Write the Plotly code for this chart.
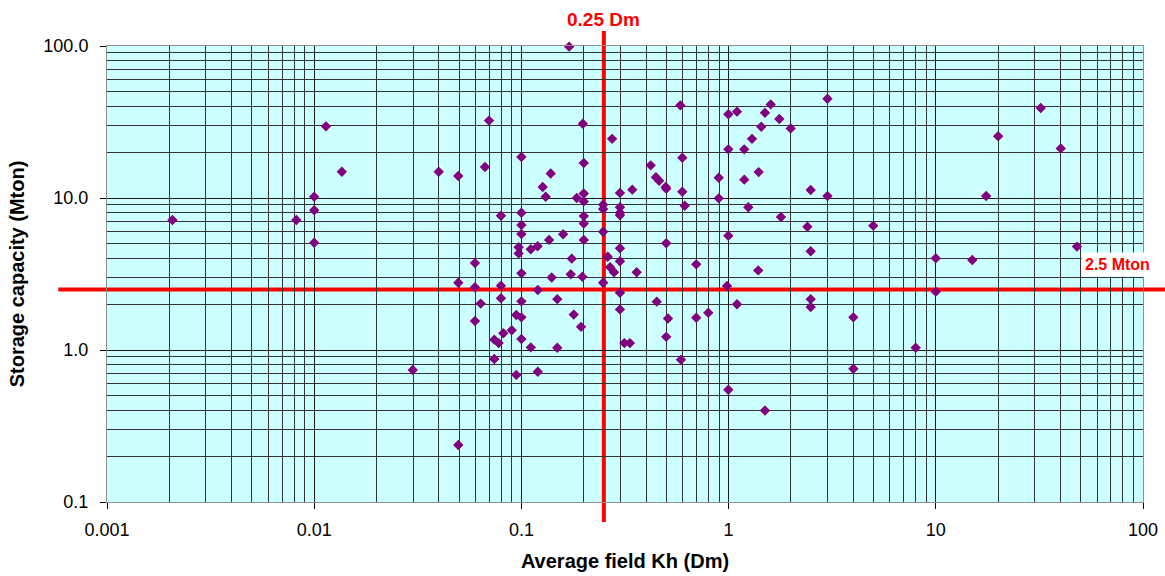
import numpy as np
import plotly.graph_objects as go

# ---- data ----
kh_dm = [0.00207, 0.0082, 0.01, 0.01, 0.01, 0.0114, 0.0136, 0.0299, 0.0399, 0.0496,
         0.0496, 0.0496, 0.0597, 0.0597, 0.0597, 0.0636, 0.0667, 0.0698, 0.074, 0.0777,
         0.074, 0.0797, 0.0797, 0.0797, 0.0818, 0.0898, 0.0945, 0.0945, 0.097, 0.097,
         0.1, 0.1, 0.1, 0.1, 0.1, 0.1, 0.1, 0.1, 0.111, 0.111,
         0.1198, 0.120, 0.120, 0.1267, 0.131, 0.136, 0.1385, 0.140, 0.149, 0.149,
         0.159, 0.170, 0.173, 0.175, 0.179, 0.185, 0.194, 0.197, 0.198, 0.2,
         0.2, 0.2, 0.2, 0.2, 0.2, 0.248, 0.248, 0.248, 0.248, 0.261,
         0.268, 0.274, 0.280, 0.299, 0.299, 0.299, 0.299, 0.299, 0.299, 0.299,
         0.299, 0.314, 0.334, 0.343, 0.360, 0.421, 0.446, 0.450, 0.462, 0.497,
         0.5, 0.5, 0.5, 0.510, 0.585, 0.589, 0.598, 0.598, 0.614, 0.698,
         0.698, 0.798, 0.896, 0.896, 0.982, 0.997, 0.997, 0.997, 0.997, 1.098,
         1.098, 1.19, 1.19, 1.245, 1.297, 1.39, 1.397, 1.438, 1.498, 1.498,
         1.597, 1.757, 1.79, 1.994, 2.40, 2.49, 2.49, 2.49, 2.49, 3.0,
         3.0, 4.0, 4.0, 4.99, 8.0, 10.0, 10.0, 15.0, 17.5, 20.0,
         32.1, 40.1, 48.0]
capacity_mton = [7.16, 7.16, 10.2, 8.3, 5.08, 29.6, 14.9, 0.738, 14.9, 13.97,
                 2.77, 0.237, 3.73, 2.59, 1.55, 2.02, 16.0, 32.3, 1.17, 1.11,
                 0.873, 7.65, 2.65, 2.19, 1.29, 1.35, 1.70, 0.686, 4.74, 4.32,
                 18.6, 8.0, 6.64, 5.8, 3.20, 2.09, 1.64, 1.18, 4.6, 1.04,
                 4.81, 2.48, 0.72, 11.8, 10.2, 5.3, 14.5, 3.0, 2.16, 1.035,
                 5.77, 99.0, 3.15, 3.99, 1.71, 10.0, 1.42, 3.03, 30.8, 17.0,
                 10.7, 9.5, 7.6, 6.8, 5.3, 9.04, 8.47, 6.0, 2.77, 4.11,
                 3.50, 24.5, 3.25, 10.8, 8.7, 8.0, 7.7, 4.67, 3.84, 2.38,
                 1.85, 1.11, 1.11, 11.35, 3.25, 16.4, 13.7, 2.08, 13.0, 11.8,
                 11.5, 5.04, 1.22, 1.61, 40.7, 0.864, 18.4, 11.0, 8.9, 3.66,
                 1.63, 1.76, 13.6, 9.95, 2.64, 35.6, 20.9, 5.65, 0.548, 37.0,
                 2.0, 20.9, 13.2, 8.7, 24.5, 3.34, 14.8, 29.4, 36.4, 0.40,
                 41.3, 33.1, 7.5, 28.7, 6.47, 11.3, 4.46, 2.16, 1.92, 45.0,
                 10.3, 1.64, 0.753, 6.58, 1.035, 4.01, 2.42, 3.91, 10.3, 25.5,
                 39.1, 21.2, 4.79]

x_tickvals = [0.001, 0.01, 0.1, 1, 10, 100]
x_ticktext = ["0.001", "0.01", "0.1", "1", "10", "100"]
y_tickvals = [0.1, 1, 10, 100]
y_ticktext = ["0.1", "1.0", "10.0", "100.0"]

kh_threshold = 0.25      # Dm
cap_threshold = 2.5      # Mton
kh_label = "0.25 Dm"
cap_label = "2.5 Mton"

x_minor = [m * 10.0 ** k for k in range(-3, 2) for m in range(2, 10)]
y_minor = [m * 10.0 ** k for k in range(-1, 2) for m in range(2, 10)]

FONT = "Arial, Liberation Sans, sans-serif"
RED = "#FF0000"

fig = go.Figure()
fig.add_trace(go.Scatter(
    x=kh_dm, y=capacity_mton, mode="markers", cliponaxis=False,
    marker=dict(symbol="diamond", size=8, color="#800080", line=dict(width=0)),
    showlegend=False, hoverinfo="x+y",
))

axis_common = dict(
    type="log", showgrid=True, gridcolor="#1a1a1a", gridwidth=1,
    ticks="outside", ticklen=6, tickcolor="#000",
    showline=True, linecolor="#909090", linewidth=1, mirror=True,
    zeroline=False, tickfont=dict(family=FONT, size=18, color="#000"),
)

fig.update_layout(
    width=1165, height=576,
    margin=dict(l=107, r=22, t=46, b=74, autoexpand=False),
    paper_bgcolor="white", plot_bgcolor="#CCFFFF",
    xaxis=dict(
        axis_common, range=[-3, 2], tickmode="array",
        tickvals=x_tickvals, ticktext=x_ticktext, ticklabelstandoff=5,
        minor=dict(tickmode="array", tickvals=x_minor, showgrid=True,
                   gridcolor="#333333", gridwidth=1, ticks=""),
        title=dict(text="<b>Average field Kh (Dm)</b>", standoff=15,
                   font=dict(family=FONT, size=20, color="#000")),
    ),
    yaxis=dict(
        axis_common, range=[-1, 2], tickmode="array",
        tickvals=y_tickvals, ticktext=y_ticktext, ticklabelstandoff=8,
        minor=dict(tickmode="array", tickvals=y_minor, showgrid=True,
                   gridcolor="#333333", gridwidth=1, ticks=""),
        title=dict(text="<b>Storage capacity (Mton)</b>", standoff=13,
                   font=dict(family=FONT, size=20, color="#000")),
    ),
    shapes=[
        dict(type="line", xref="x", yref="paper", x0=kh_threshold, x1=kh_threshold,
             y0=-0.044, y1=1.033, line=dict(color=RED, width=4), layer="between"),
        dict(type="line", xref="paper", yref="y", x0=-0.047, x1=1.03,
             y0=cap_threshold, y1=cap_threshold, line=dict(color=RED, width=4), layer="between"),
    ],
    annotations=[
        dict(text=f"<b>{kh_label}</b>", xref="x", yref="paper",
             x=np.log10(kh_threshold), y=1.058, showarrow=False,
             font=dict(family=FONT, size=19, color=RED), xanchor="center", yanchor="middle"),
        dict(text=f"<b>{cap_label}</b>", xref="paper", yref="y",
             x=0.9754, y=np.log10(cap_threshold), yshift=25, showarrow=False,
             bgcolor="white", borderpad=3,
             font=dict(family=FONT, size=16, color=RED), xanchor="center", yanchor="middle"),
    ],
)

fig.write_html("out.html")
